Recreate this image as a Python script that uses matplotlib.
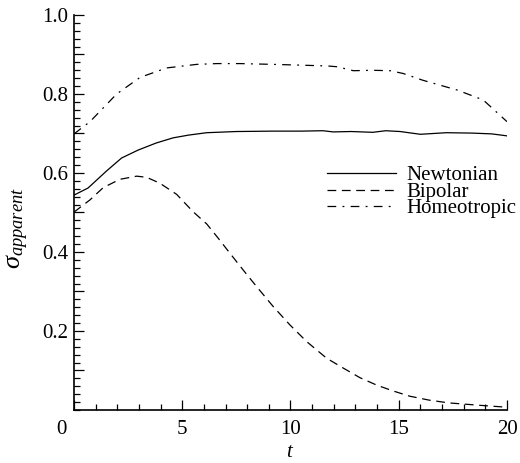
import matplotlib
matplotlib.use("Agg")
import matplotlib.pyplot as plt
import matplotlib.transforms as mtransforms
from matplotlib.ticker import FixedLocator, MultipleLocator, FuncFormatter

plt.rcParams["font.family"] = ["Liberation Serif", "DejaVu Serif"]
plt.rcParams["mathtext.fontset"] = "custom"
plt.rcParams["mathtext.rm"] = "Liberation Serif"
plt.rcParams["mathtext.it"] = "Liberation Serif:italic"

# Data
t_newt = [0, 0.65, 1.5, 2.2, 2.96, 3.8, 4.58, 5.3, 6.13, 7.5, 9.2, 10.5, 11.5, 11.97,
          12.8, 13.8, 14.4, 15.06, 16.0, 17.2, 18.4, 19.3, 20.0]
newtonian = [0.544, 0.562, 0.605, 0.638, 0.658, 0.676, 0.689, 0.696, 0.702, 0.705, 0.706,
             0.706, 0.707, 0.704, 0.705, 0.703, 0.707, 0.705, 0.698, 0.702, 0.701, 0.699, 0.694]

t_bip = [0, 0.74, 1.35, 2.12, 2.9, 3.36, 3.97, 4.74, 5.5, 6.13, 6.66, 7.2, 7.82, 8.44,
         9.2, 9.98, 10.75, 11.67, 12.44, 13.2, 13.98, 14.75, 15.5, 16.4, 17.3, 18.7, 20.0]
bipolar = [0.501, 0.532, 0.563, 0.584, 0.592, 0.589, 0.574, 0.546, 0.502, 0.471, 0.435,
           0.397, 0.354, 0.312, 0.262, 0.215, 0.173, 0.131, 0.106, 0.082, 0.063, 0.048,
           0.035, 0.025, 0.018, 0.012, 0.007]

t_homeo = [0, 0.74, 1.97, 3.05, 4.28, 5.67, 6.6, 7.67, 9.2, 10.5, 11.7, 12.15, 12.9,
           13.8, 14.6, 15.2, 16.1, 17.7, 18.9, 20.0]
homeotropic = [0.699, 0.73, 0.80, 0.842, 0.866, 0.875, 0.877, 0.877, 0.875, 0.873, 0.871,
               0.869, 0.859, 0.860, 0.859, 0.852, 0.835, 0.81, 0.785, 0.73]

y_labels = ["0.2", "0.4", "0.6", "0.8", "1.0"]

fig = plt.figure(figsize=(5.2, 4.63), dpi=100)
ax = fig.add_axes([0.1423, 0.1145, 0.8327, 0.8531])

lw = 0.9
ax.plot(t_newt, newtonian, color="black", lw=lw, label="Newtonian")
ax.plot(t_bip, bipolar, color="black", lw=lw, dashes=(7, 4.5), label="Bipolar")
ax.plot(t_homeo, homeotropic, color="black", lw=lw, dashes=(7, 5, 1.5, 5), label="Homeotropic")

ax.set_xlim(0, 20)
ax.set_ylim(0, 1.0)

for s in ("top", "right"):
    ax.spines[s].set_visible(False)
for s in ("left", "bottom"):
    ax.spines[s].set_linewidth(1.2)

ax.xaxis.set_major_locator(FixedLocator([0, 5, 10, 15, 20]))
ax.xaxis.set_minor_locator(MultipleLocator(1))
ax.yaxis.set_major_locator(FixedLocator([0.1 * i for i in range(1, 11)]))
ax.yaxis.set_minor_locator(MultipleLocator(0.02))
ax.yaxis.set_major_formatter(FuncFormatter(
    lambda v, p: f"{v:.1f}" if f"{v:.1f}" in y_labels else ""))

ax.tick_params(which="both", direction="in", labelsize=15, width=0.9)
ax.tick_params(which="major", length=7.5)
ax.tick_params(which="minor", length=4.5)
ax.tick_params(axis="x", pad=7)
ax.tick_params(axis="y", pad=4)

# shift the "0" label left like the original
tk0 = ax.xaxis.get_major_ticks()[0]
tk0.label1.set_transform(tk0.label1.get_transform()
                         + mtransforms.ScaledTranslation(-0.13, 0, fig.dpi_scale_trans))

ax.set_xlabel("$t$", fontsize=15, labelpad=3)
ax.set_ylabel(r"$\sigma_{apparent}$", fontsize=19)
ax.yaxis.set_label_coords(-0.10, 0.46)

ax.legend(loc="upper left", bbox_to_anchor=(0.584, 0.618), frameon=False, fontsize=15,
          handlelength=3.3, handletextpad=0.5, labelspacing=-0.15, borderpad=0,
          borderaxespad=0)

fig.savefig("out.png", dpi=100)
